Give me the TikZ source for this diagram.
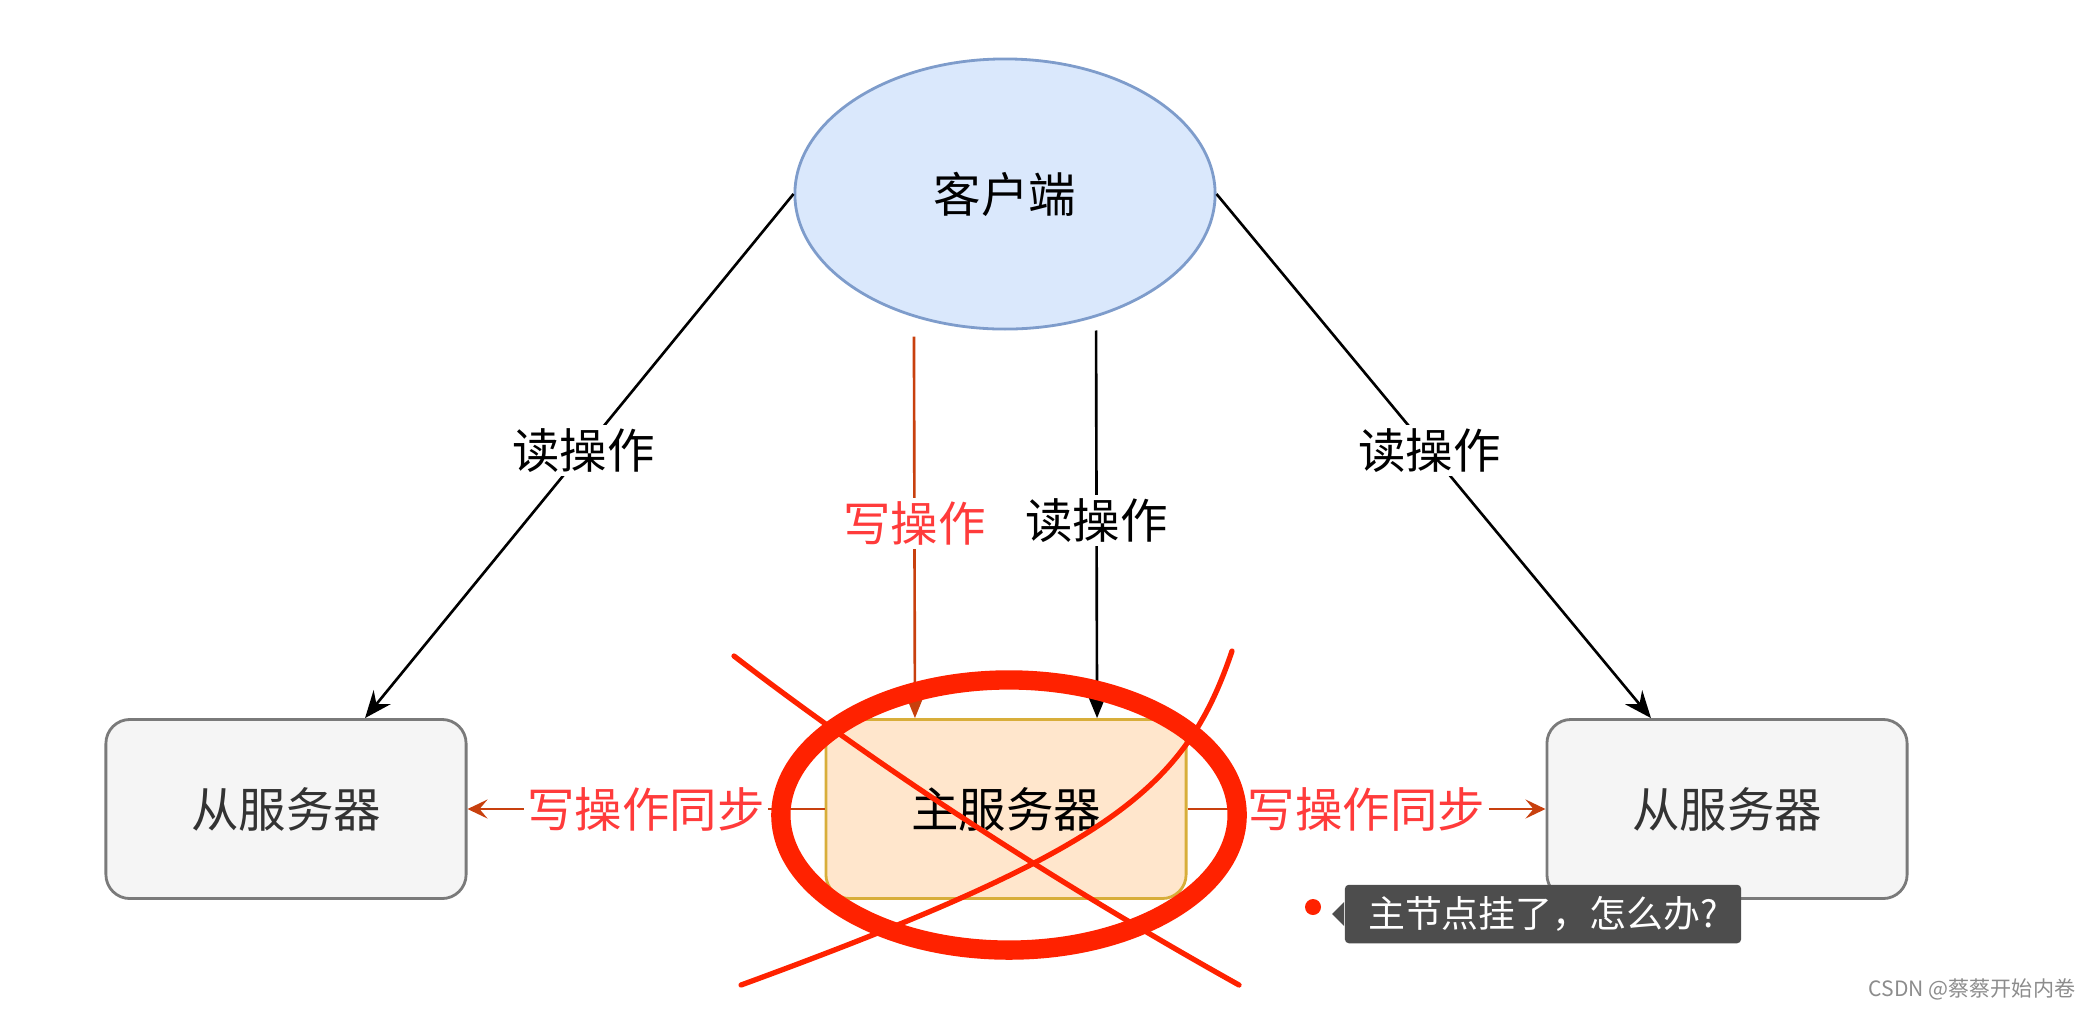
\documentclass[tikz,border=0pt]{standalone}
\usepackage{fontspec}
\setmainfont{Noto Sans CJK SC}
\usetikzlibrary{shapes.geometric, arrows.meta, positioning, calc}
\definecolor{clientfill}{HTML}{DAE8FC}
\definecolor{clientline}{HTML}{7E9CCB}
\definecolor{slavefill}{HTML}{F5F5F5}
\definecolor{slaveline}{HTML}{7A7A7A}
\definecolor{masterfill}{HTML}{FFE6CC}
\definecolor{masterline}{HTML}{D8AE3A}
\definecolor{syncline}{HTML}{C8400E}
\definecolor{writetext}{HTML}{FF3B3B}
\definecolor{cross}{HTML}{FF2200}
\definecolor{tipgray}{HTML}{4D4D4D}
\tikzset{x=0.01cm, y=-0.01cm, % one unit = one pixel of the reference
    client/.style={ % the ellipse on top
    ellipse, draw=clientline, fill=clientfill, line width=0.8pt,
    minimum width=4.2cm, minimum height=2.7cm, inner sep=0pt,
    font=\fontsize{13.5}{16}\selectfont},
    server/.style={ % rounded boxes for the servers
    rectangle, rounded corners=0.24cm, line width=0.8pt,
    minimum width=3.6cm, minimum height=1.79cm,
    font=\fontsize{13.5}{16}\selectfont},
    slave/.style={server, draw=slaveline, fill=slavefill, text=black!80},
    master/.style={server, draw=masterline, fill=masterfill},
    oplabel/.style={fill=white, inner sep=1pt, font=\fontsize{13.5}{16}\selectfont},
    writelabel/.style={oplabel, text=writetext},
    readarrow/.style={draw, line width=0.75pt, -{Stealth[length=2.7mm, width=2.2mm, inset=0.9mm]}},
    writearrow/.style={readarrow, draw=syncline},
    syncarrow/.style={draw=syncline, line width=0.75pt, -{Stealth[length=2mm, width=1.9mm, inset=0.8mm]}},
    scrawl/.style={draw=cross, line width=1.5pt, line cap=round}}

\begin{document}
\begin{tikzpicture}
    \useasboundingbox (0,0) rectangle (2082,1008);

    % Nodes
    \node[client] (client) at (1005,194) {客户端};
    \node[slave] (slaveL) at (286,809) {从服务器};
    \node[master] (master) at (1006,809) {主服务器};
    \node[slave] (slaveR) at (1727,809) {从服务器};

    % Read and write operations from the client
    \draw[readarrow] (client.west) -- ([xshift=0.79cm]slaveL.north)
        node[oplabel, pos=0.49] {读操作};
    \draw[readarrow] (client.east) -- ([xshift=-0.76cm]slaveR.north)
        node[oplabel, pos=0.49] {读操作};
    \draw[writearrow] ([xshift=-0.91cm, yshift=-0.06cm]client.south) -- ([xshift=-0.91cm]master.north)
        node[writelabel, pos=0.49] {写操作};
    \draw[readarrow] ([xshift=0.91cm]client.south) -- ([xshift=0.91cm]master.north)
        node[oplabel, pos=0.49] {读操作};

    % Synchronisation to the slaves
    \draw[syncarrow] (master.west) -- (slaveL.east)
        node[writelabel, pos=0.5] {写操作同步};
    \draw[syncarrow] (master.east) -- (slaveR.east -| slaveR.west)
        node[writelabel, pos=0.5] {写操作同步};

    % Crossed out master
    \draw[scrawl] (734,656) .. controls (885,772) and (1060,885) .. (1239,985);
    \draw[scrawl] (1232,651) .. controls (1185,790) and (1110,850) .. (741,985);
    \draw[draw=cross, line width=5.5pt] (1009,815) ellipse [x radius=2.28cm, y radius=1.35cm];

    % Tooltip
    \fill[cross] (1313,907) circle (0.08cm);
    \node[fill=tipgray, rounded corners=0.04cm, minimum width=3.96cm, minimum height=0.56cm,
        text=white, font=\fontsize{10.5}{12}\selectfont] (tip) at (1543,914) {主节点挂了，怎么办?};
    \fill[tipgray] ([yshift=0.12cm]tip.west) -- ([xshift=-0.12cm]tip.west) -- ([yshift=-0.12cm]tip.west) -- cycle;

    % Watermark
    \node[text=black!45, font=\fontsize{6}{7}\selectfont] (mark) at (1972,989) {CSDN @蔡蔡开始内卷};
\end{tikzpicture}
\end{document}
